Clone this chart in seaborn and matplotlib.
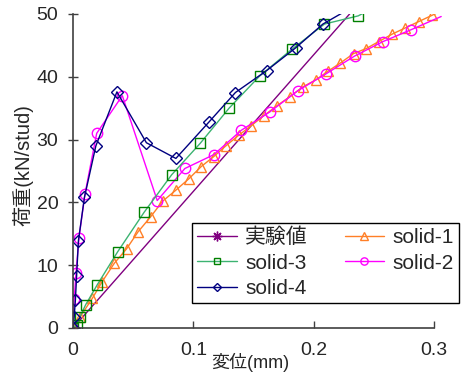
import numpy as np
import pandas as pd
import matplotlib
matplotlib.use("Agg")
import matplotlib.pyplot as plt
import seaborn as sns

# 変位(mm) と 荷重(kN/stud) の読み取り値
exp_x = [0.0, 0.24]
exp_y = [0.0, 52.2]

s1_x = [0.0, 0.006, 0.016, 0.0243, 0.0343, 0.0445, 0.054, 0.0645, 0.0745, 0.0852,
        0.0965, 0.1065, 0.117, 0.127, 0.1378, 0.148, 0.1585, 0.1695, 0.18, 0.191,
        0.2017, 0.212, 0.2222, 0.2332, 0.2437, 0.254, 0.2653, 0.2763, 0.2874, 0.2985, 0.306]
s1_y = [0.0, 1.8, 4.7, 7.4, 10.3, 12.6, 15.3, 17.7, 20.2, 21.9,
        23.8, 25.7, 27.3, 29.0, 30.7, 32.2, 33.8, 35.4, 36.8, 38.4,
        39.5, 40.9, 42.2, 43.7, 44.5, 45.6, 46.8, 47.8, 48.8, 49.8, 50.5]

s2_x = [0.0, 0.001, 0.0025, 0.005, 0.01, 0.0197, 0.041, 0.07, 0.093, 0.117,
        0.14, 0.1635, 0.187, 0.2105, 0.234, 0.2575, 0.281, 0.306]
s2_y = [0.0, 4.6, 8.8, 14.4, 21.4, 31.0, 37.0, 20.3, 25.4, 27.6,
        31.5, 34.4, 37.8, 40.5, 43.3, 45.6, 47.5, 49.6]

s3_x = [0.0, 0.003, 0.0058, 0.0105, 0.0202, 0.037, 0.059, 0.082, 0.1057, 0.1297,
        0.155, 0.182, 0.209, 0.237, 0.26]
s3_y = [0.0, 0.5, 1.8, 3.7, 6.9, 12.1, 18.4, 24.4, 29.4, 35.0,
        40.1, 44.4, 48.4, 49.7, 52.0]

s4_x = [0.0, 0.001, 0.002, 0.003, 0.0045, 0.0095, 0.019, 0.0365, 0.061, 0.0855,
        0.113, 0.135, 0.161, 0.185, 0.2077, 0.245]
s4_y = [0.0, 1.8, 4.5, 8.3, 13.9, 20.8, 29.0, 37.6, 29.5, 27.0,
        32.8, 37.5, 41.0, 44.6, 48.4, 52.5]

x_ticks = [0, 0.1, 0.2, 0.3]
x_ticklabels = ["0", "0.1", "0.2", "0.3"]
y_ticks = [0, 10, 20, 30, 40, 50]

sns.set_style("ticks")
plt.rcParams['font.family'] = ['Liberation Sans', 'Noto Sans CJK JP']

fig = plt.figure(figsize=(4.62, 3.72), dpi=100)
ax = fig.add_axes([73 / 462, 44 / 372, 373 / 462, 314 / 372])

common = dict(ax=ax, sort=False, estimator=None, linewidth=1.0,
              markerfacecolor='none', markeredgewidth=1.0)

sns.lineplot(x=exp_x, y=exp_y, color='#800080', marker=(8, 2, 0), markersize=10,
             markeredgecolor='#800080', markevery=[0], label='実験値', **common)
sns.lineplot(x=s1_x, y=s1_y, color='#ff7f27', marker='^', markersize=7.5,
             markeredgecolor='#ff7f27', markevery=slice(0, -1), label='solid-1', **common)
sns.lineplot(x=s2_x, y=s2_y, color='#ff00ff', marker='o', markersize=7.5,
             markeredgecolor='#ff00ff', markevery=slice(0, -1), label='solid-2', **common)
sns.lineplot(x=s3_x, y=s3_y, color='#3cb371', marker='s', markersize=7,
             markeredgecolor='#008000', markevery=slice(0, -1), label='solid-3', **common)
sns.lineplot(x=s4_x, y=s4_y, color='#000080', marker='D', markersize=6,
             markeredgecolor='#000080', markevery=slice(0, -1), label='solid-4', **common)

handles, labels = ax.get_legend_handles_labels()
if ax.get_legend() is not None:
    ax.get_legend().remove()

ax.set_xlim(0, 0.31)
ax.set_ylim(0, 50)
ax.set_xticks(x_ticks)
ax.set_xticklabels(x_ticklabels)
ax.set_yticks(y_ticks)

for side in ['top', 'right']:
    ax.spines[side].set_visible(False)
for side in ['left', 'bottom']:
    ax.spines[side].set_color('#404040')
    ax.spines[side].set_linewidth(1.2)
ax.spines['bottom'].set_bounds(0, 0.3)

ax.tick_params(axis='x', direction='in', length=5, width=1.0, color='#404040',
               labelsize=14, pad=10)
ax.tick_params(axis='y', direction='inout', length=7, width=1.0, color='#404040',
               labelsize=14, pad=7)

ax.set_ylabel('荷重(kN/stud)', fontsize=14.5)
ax.yaxis.set_label_coords(-0.105, 0.52)
ax.set_xlabel('変位(mm)', fontsize=13)
ax.xaxis.set_label_coords((250 - 73) / 373, -0.08)

order = [labels.index(l) for l in ['実験値', 'solid-3', 'solid-4', 'solid-1', 'solid-2']]
leg = fig.legend([handles[i] for i in order], [labels[i] for i in order],
                 ncol=2, loc='lower left',
                 bbox_to_anchor=(192 / 462, 1 - 303 / 372, 267 / 462, 88 / 372),
                 mode='expand', borderaxespad=0, fontsize=15, frameon=True,
                 fancybox=False, framealpha=1, edgecolor='black',
                 handlelength=1.9, handletextpad=0.4, columnspacing=1.0,
                 labelspacing=0.3, borderpad=0.25, markerscale=0.7)
leg.get_frame().set_linewidth(1.0)

fig.savefig('out.png', dpi=100)
